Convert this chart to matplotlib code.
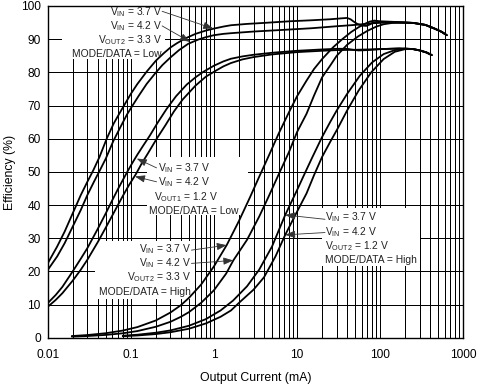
import matplotlib
matplotlib.use("Agg")
import matplotlib.pyplot as plt
from matplotlib.ticker import LogLocator, NullFormatter, FixedLocator, FixedFormatter
from matplotlib.patches import Rectangle

plt.rcParams['font.family'] = ['Liberation Sans', 'DejaVu Sans']
plt.rcParams['mathtext.fontset'] = 'custom'
plt.rcParams['mathtext.rm'] = 'Liberation Sans'
plt.rcParams['mathtext.it'] = 'Liberation Sans:italic'
plt.rcParams['mathtext.bf'] = 'Liberation Sans:bold'

# ---- data (Output current mA, efficiency %) ----
# VOUT2 = 3.3 V, MODE/DATA = Low
a1_x = [0.01, 0.013, 0.016, 0.02, 0.025, 0.03, 0.0354, 0.042, 0.0513, 0.062, 0.0725, 0.0851, 0.1, 0.12,
        0.155, 0.2, 0.25, 0.3, 0.36, 0.45, 0.6, 0.8, 1.0, 1.3, 1.6, 2.5, 4, 8.2, 15, 25, 35, 40, 44, 48,
        53, 60, 68, 76, 83, 100, 150, 250, 350, 450, 550, 632]
a1_y = [22.4, 27.5, 32, 37.5, 43, 47, 50.5, 54.5, 60, 64.5, 67.5, 70.5, 73.5, 76.5,
        80.2, 83.5, 85.8, 87.5, 88.8, 90.2, 91.6, 92.6, 93.2, 93.8, 94.2, 94.6, 94.9, 95.4, 95.7, 96.0, 96.3, 96.4, 96.0, 95.3,
        94.6, 94.1, 94.0, 94.5, 95.1, 95.2, 95.2, 94.9, 94.3, 93.2, 92.2, 91.2]
a2_x = [0.01, 0.013, 0.016, 0.02, 0.025, 0.03, 0.036, 0.0425, 0.05, 0.0616, 0.075, 0.09, 0.1025, 0.125,
        0.155, 0.195, 0.24, 0.3, 0.38, 0.49, 0.65, 0.8, 1.0, 1.3, 1.6, 3, 8, 15, 30, 50, 80, 120,
        250, 350, 450, 550, 632]
a2_y = [20.4, 24.5, 28.5, 33.5, 38.5, 43, 47, 50.5, 54, 59.3, 63.5, 67.3, 69.6, 73,
        76.5, 79.6, 82.2, 84.5, 86.7, 88.6, 89.9, 90.6, 91.2, 91.6, 91.8, 92.3, 92.9, 93.3, 93.9, 94.3, 94.8, 95.0,
        94.9, 94.3, 93.2, 92.2, 91.2]
# VOUT1 = 1.2 V, MODE/DATA = Low
b1_x = [0.01, 0.0125, 0.015, 0.02, 0.025, 0.03, 0.04, 0.05, 0.06, 0.07, 0.08, 0.092, 0.105, 0.12, 0.14,
        0.17, 0.21, 0.27, 0.35, 0.47, 0.6, 0.75, 1.0, 1.3, 1.6, 2.2, 3, 5, 10, 20, 30, 40, 47, 55, 70,
        100, 170, 250, 300, 360, 417]
b1_y = [10.4, 12.9, 15.3, 20, 23.8, 27, 32.8, 37.5, 41.5, 44.8, 47.5, 50.3, 52.8, 55.2, 57.8,
        61, 64.8, 69, 72.8, 76.3, 78.5, 80.2, 82, 83.3, 84.1, 84.8, 85.3, 85.9, 86.5, 86.9, 87.1, 87.1, 86.8, 86.6, 86.7,
        87, 87.2, 87, 86.6, 86, 85.2]
b2_x = [0.01, 0.0125, 0.015, 0.02, 0.025, 0.03, 0.04, 0.05, 0.065, 0.08, 0.095, 0.115, 0.135, 0.16,
        0.205, 0.26, 0.33, 0.42, 0.6, 0.8, 1.07, 1.3, 1.6, 2.2, 3, 5, 10, 20, 30, 50, 100, 170, 250,
        300, 360, 417]
b2_y = [9.3, 11.4, 13.4, 17.2, 20.5, 23.5, 28.8, 33.2, 38.5, 42.7, 46, 49.3, 52.5, 55.5,
        60, 64, 68.2, 71.8, 76, 78.7, 80.6, 81.8, 82.8, 83.9, 84.6, 85.4, 86.1, 86.5, 86.7, 86.8, 87, 87.2, 87,
        86.6, 86, 85.2]
# VOUT2 = 3.3 V, MODE/DATA = High
c1_x = [0.0195, 0.03, 0.05, 0.08, 0.12, 0.2, 0.3, 0.4, 0.5, 0.7, 1.0, 1.43, 2.0, 2.7, 3.5, 4.5, 6, 8,
        10, 13, 16, 20, 27, 35, 45, 55, 65, 75, 85, 100, 150, 250, 350, 450, 550, 632]
c1_y = [0.5, 0.8, 1.35, 2.15, 3.2, 5.2, 7.6, 9.8, 12, 16, 21.5, 28, 35.2, 42.2, 48.5, 54.5, 61.5, 68,
        72.8, 77.5, 81, 84, 87.5, 90, 92.2, 93.6, 94.6, 95.3, 95.6, 95.4, 95.2, 94.9, 94.3, 93.2, 92.2, 91.2]
c2_x = [0.0195, 0.03, 0.05, 0.08, 0.12, 0.2, 0.3, 0.4, 0.5, 0.7, 1.0, 1.4, 1.71, 2.5, 3.5, 4.5, 6, 8,
        10, 13, 16, 20, 25, 30, 40, 54, 70, 90, 110, 140, 200, 250, 350, 450, 550, 632]
c2_y = [0.33, 0.5, 0.84, 1.33, 2.0, 3.3, 4.8, 6.3, 7.7, 10.5, 14.3, 19.3, 23.3, 29.5, 36.5, 42.3, 49.2, 56,
        62, 67.5, 73, 78.5, 82, 85, 88.3, 90.8, 92.5, 93.8, 94.5, 94.9, 95.0, 94.9, 94.3, 93.2, 92.2, 91.2]
# VOUT2 = 1.2 V, MODE/DATA = High
d1_x = [0.08, 0.12, 0.2, 0.3, 0.5, 0.8, 1.2, 1.7, 2.5, 3.5, 5, 7.2, 10, 12, 15, 20, 25, 30, 40, 57,
        80, 110, 150, 200, 250, 300, 360, 417]
d1_y = [0.6, 0.9, 1.5, 2.2, 3.6, 5.6, 8.2, 11.2, 15.5, 20.5, 27.5, 37, 44.5, 48.8, 54, 60.5, 65, 68.5, 73.5, 79,
        83, 85.5, 86.7, 87.2, 87, 86.6, 86, 85.2]
d2_x = [0.08, 0.12, 0.2, 0.3, 0.5, 0.8, 1.2, 1.6, 2.06, 3, 4, 5.5, 7.2, 10, 13, 16, 20, 25, 30.7, 40,
        55, 78, 110, 150, 200, 250, 300, 360, 417]
d2_y = [0.45, 0.67, 1.1, 1.65, 2.7, 4.3, 6.3, 8.2, 10.8, 14.5, 18.2, 24.5, 31, 38, 43.5, 49, 54.5, 59, 63, 68.5,
        74.5, 80, 84, 86.2, 87, 87, 86.6, 86, 85.2]

series = [(a1_x, a1_y), (a2_x, a2_y), (b1_x, b1_y), (b2_x, b2_y),
          (c1_x, c1_y), (c2_x, c2_y), (d1_x, d1_y), (d2_x, d2_y)]

x_ticks = [0.01, 0.1, 1, 10, 100, 1000]
x_tick_labels = ['0.01', '0.1', '1', '10', '100', '1000']
y_ticks = [0, 10, 20, 30, 40, 50, 60, 70, 80, 90, 100]

fig = plt.figure(figsize=(4.82, 3.88), dpi=100)
W, H = 482.0, 388.0
L, R, T, B = 47.7, 463.3, 6.0, 337.7
ax = fig.add_axes([L / W, 1 - B / H, (R - L) / W, (B - T) / H])
ax.set_xscale('log')
ax.set_xlim(0.01, 1000)
ax.set_ylim(0, 100)

ax.xaxis.set_major_locator(FixedLocator(x_ticks))
ax.xaxis.set_major_formatter(FixedFormatter(x_tick_labels))
ax.xaxis.set_minor_locator(LogLocator(base=10, subs=range(2, 10), numticks=50))
ax.xaxis.set_minor_formatter(NullFormatter())
ax.set_yticks(y_ticks)
ax.set_yticklabels([str(v) for v in y_ticks])

ax.set_axisbelow(True)
ax.grid(which='both', axis='x', color='black', lw=0.72)
ax.grid(which='major', axis='y', color='black', lw=0.72)
ax.tick_params(which='both', length=0)
ax.tick_params(axis='x', pad=8, labelsize=8.6)
ax.tick_params(axis='y', pad=5, labelsize=8.6)
for s in ax.spines.values():
    s.set_color('black')
    s.set_linewidth(1.0)

# white label boxes (hide grid behind annotation texts)
boxes = [(0.01486, 84.0, 0.258, 99.7),
         (0.1567, 37.0, 2.57, 54.4),
         (0.0372, 11.6, 0.592, 29.1),
         (20.0, 21.6, 302.0, 39.1)]
for x0, y0, x1, y1 in boxes:
    ax.add_patch(Rectangle((x0, y0), x1 - x0, y1 - y0, facecolor='white',
                           edgecolor='none', zorder=2))

for xs, ys in series:
    ax.plot(xs, ys, color='black', lw=1.3, zorder=3, solid_capstyle='round',
            solid_joinstyle='round')

fs = 7.4
tc = '#222222'
def label(x, y, s, ha):
    ax.text(x, y, s, ha=ha, va='center', fontsize=fs, color=tc, zorder=5)

def arrow(x0, y0, x1, y1):
    ax.annotate('', xy=(x1, y1), xytext=(x0, y0),
                arrowprops=dict(arrowstyle='-|>,head_length=0.6,head_width=0.22',
                                color='#333333', lw=0.6, shrinkA=0, shrinkB=0,
                                mutation_scale=10), zorder=5)

VIN = r'V$_{\mathregular{IN}}$'
# group A
label(0.237, 98.2, VIN + ' = 3.7 V', 'right')
label(0.237, 94.0, VIN + ' = 4.2 V', 'right')
label(0.237, 89.8, r'V$_{\mathregular{OUT2}}$ = 3.3 V', 'right')
label(0.237, 85.6, 'MODE/DATA = Low', 'right')
arrow(0.238, 98.4, 0.98, 93.2)
arrow(0.238, 94.0, 0.515, 89.2)
# group B
label(0.212, 51.0, VIN + ' = 3.7 V', 'left')
label(0.212, 46.8, VIN + ' = 4.2 V', 'left')
label(0.19, 42.5, r'V$_{\mathregular{OUT1}}$ = 1.2 V', 'left')
label(0.1656, 38.3, 'MODE/DATA = Low', 'left')
arrow(0.204, 51.2, 0.118, 54.0)
arrow(0.204, 47.0, 0.1123, 48.6)
# group C
label(0.53, 26.7, VIN + ' = 3.7 V', 'right')
label(0.53, 22.4, VIN + ' = 4.2 V', 'right')
label(0.53, 18.4, r'V$_{\mathregular{OUT2}}$ = 3.3 V', 'right')
label(0.53, 13.9, 'MODE/DATA = High', 'right')
arrow(0.536, 26.4, 1.426, 27.9)
arrow(0.536, 22.4, 1.712, 23.3)
# group D
label(21.7, 36.4, VIN + ' = 3.7 V', 'left')
label(21.7, 31.9, VIN + ' = 4.2 V', 'left')
label(21.7, 27.7, r'V$_{\mathregular{OUT2}}$ = 1.2 V', 'left')
label(21.7, 23.4, 'MODE/DATA = High', 'left')
arrow(21.7, 35.7, 7.18, 37.0)
arrow(21.7, 31.7, 7.18, 31.0)

fig.text(255.5 / W, 1 - 378 / H, 'Output Current (mA)', ha='center', va='center',
         fontsize=8.8, color='black')
fig.text(10 / W, 1 - 172 / H, 'Efficiency (%)', ha='center', va='center',
         rotation=90, fontsize=8.8, color='black')

fig.savefig('out.png', dpi=100)
